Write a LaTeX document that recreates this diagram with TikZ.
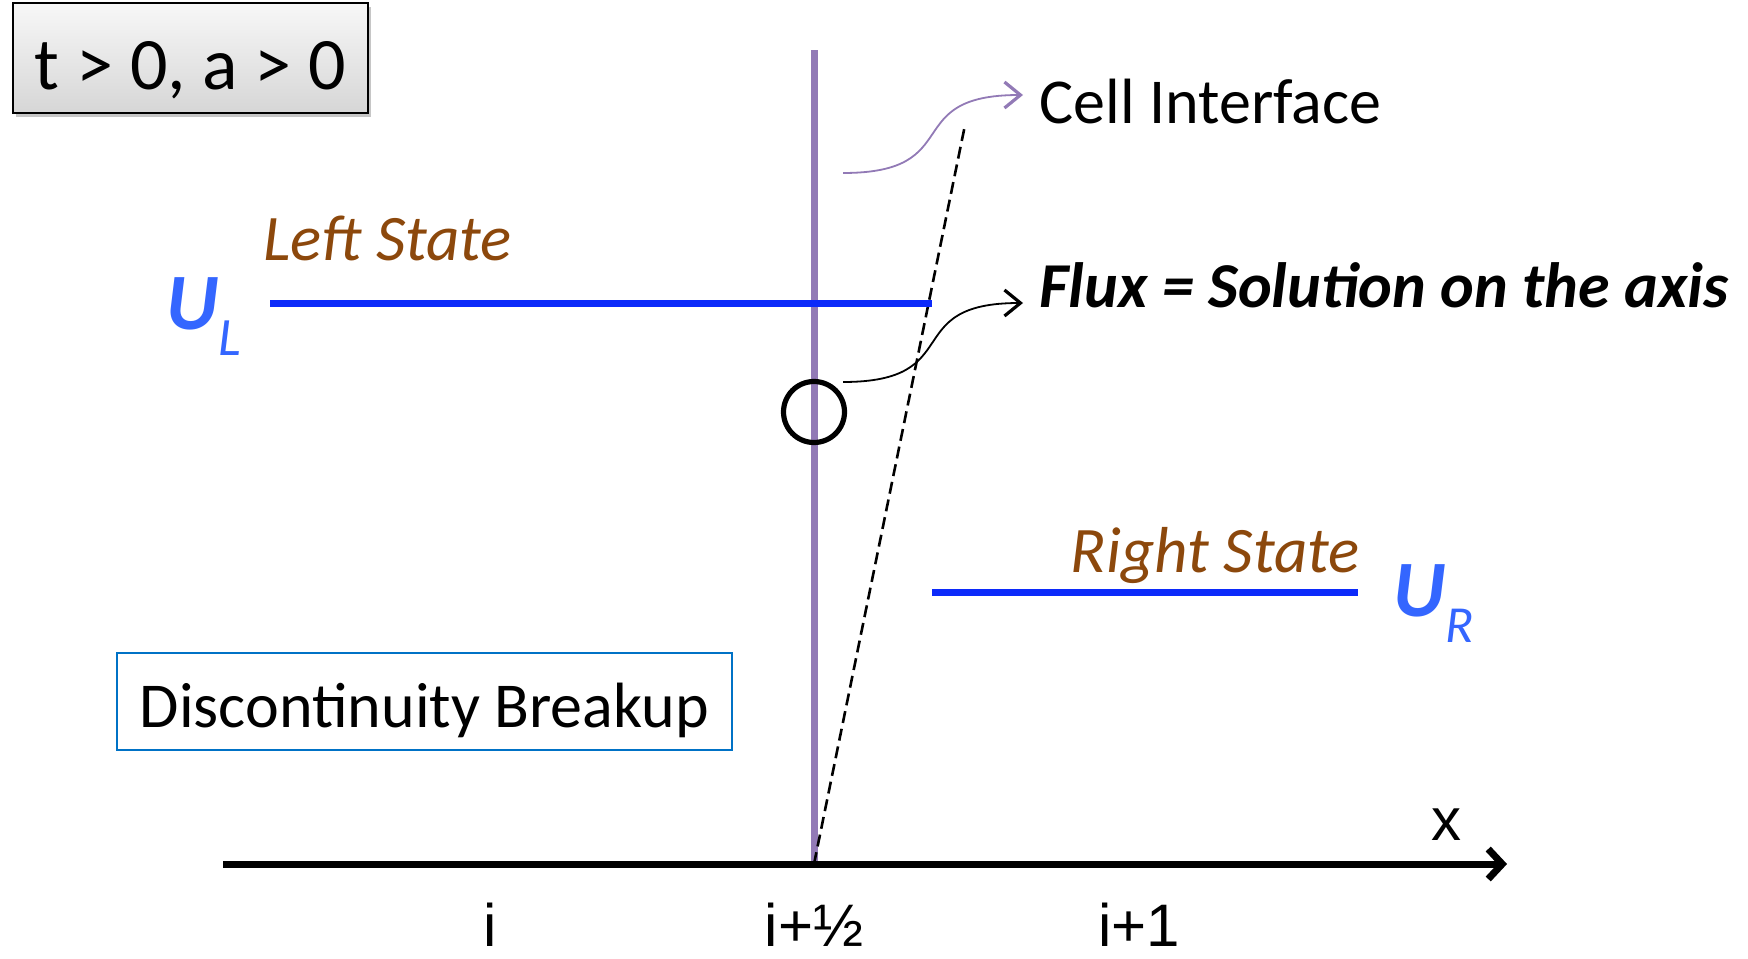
\documentclass[tikz,border=0pt]{standalone}
\usepackage{fontspec}
\setmainfont{Carlito}
\newfontfamily\axisfont{Liberation Sans}
\usetikzlibrary{positioning, arrows.meta, calc, shadows}

\definecolor{ifacepurple}{RGB}{146,122,182}
\definecolor{stateblue}{RGB}{12,42,250}
\definecolor{ublue}{RGB}{52,102,255}
\definecolor{statebrown}{RGB}{140,72,12}
\definecolor{boxblue}{RGB}{0,114,198}

\begin{document}
\begin{tikzpicture}[
    x=0.5pt, y=-0.5pt, % one unit is one pixel of the sketch, y runs down
    every node/.style={font=\fontsize{32}{38}\selectfont, inner sep=0pt},
    state/.style={stateblue, line width=3.5pt},
    lbl/.style={statebrown, font=\fontsize{32.5}{38}\selectfont\itshape},
    tick/.style={anchor=base, font=\axisfont\fontsize{30}{36}\selectfont},
    pointer/.style={-{Straight Barb[length=8pt, width=13pt, line width=1.6pt]}, line width=0.9pt}
]
    \useasboundingbox (0,0) rectangle (1748,958);

    % axis, cell interface and the wave
    \coordinate (o) at (223,864);
    \coordinate (xend) at (1507,864);
    \coordinate (foot) at (814,864);
    \coordinate (top) at (814,50);
    \coordinate (wave) at (965,125);

    \draw [ifacepurple, line width=3.5pt] (top) -- (foot);
    \draw [dash pattern=on 6pt off 3pt, line width=1.3pt] (foot) -- (wave);
    \draw [line width=3.5pt, -{Straight Barb[length=7pt, width=15pt, line width=3.5pt]}] (o) -- (xend);

    % left and right states
    \coordinate (ula) at (270,303);
    \coordinate (ulb) at (932,303);
    \coordinate (ura) at (932,592);
    \coordinate (urb) at (1358,592);
    \draw [state] (ula) -- (ulb);
    \draw [state] (ura) -- (urb);

    \node (probe) [circle, draw, line width=2.6pt, minimum size=30.5pt] at (814,412) {};

    % labels
    \node (cond) [draw, line width=1pt, top color=gray!6, bottom color=gray!32,
        drop shadow={shadow xshift=1.5pt, shadow yshift=-2pt, opacity=0.45},
        minimum width=177.5pt, minimum height=55pt, text height=31pt, text depth=0pt,
        font=\fontsize{37}{44}\selectfont] at (190.5,58) {t > 0, a > 0};

    \node (ul) [anchor=base west, ublue] at (166,329)
        {\fontsize{40}{48}\selectfont\bfseries\itshape U\raisebox{-13pt}{\fontsize{27}{32}\selectfont\mdseries L}};
    \node (ur) [anchor=base west, ublue] at (1393,616)
        {\fontsize{40}{48}\selectfont\bfseries\itshape U\raisebox{-13pt}{\fontsize{26}{31}\selectfont\mdseries R}};

    \node (lefts) [lbl, anchor=base west] at (263,260) {Left State};
    \node (rights) [lbl, anchor=base east] at (1360,572) {Right State};

    \node (iface) [anchor=base west] at (1039,123) {Cell Interface};
    \node (flux) [anchor=base west, font=\fontsize{32}{38}\selectfont\bfseries\itshape] at (1039,307) {Flux = Solution on the axis};

    \node (breakup) [draw=boxblue, line width=0.8pt, minimum width=307.5pt, minimum height=48.5pt,
        text height=25.5pt, text depth=0pt] at (424.5,701.5) {Discontinuity Breakup};

    \node (xlab) [tick] at (1446,840) {x};
    \node (ihalf) [tick, below=41pt of foot, anchor=base] {i+½};
    \node (icell) [tick] at ($(ihalf.base)+(-324,0)$) {i};
    \node (inext) [tick] at ($(ihalf.base)+(325,0)$) {i+1};

    % pointers to the texts
    \coordinate (cellfrom) at (843,173);
    \coordinate (fluxfrom) at (843,382);
    \draw [pointer, ifacepurple] (cellfrom) .. controls +(125,0) and +(-125,0) .. ($(iface.base west)+(-16,-28)$);
    \draw [pointer] (fluxfrom) .. controls +(125,0) and +(-125,0) .. ($(flux.base west)+(-16,-4)$);
\end{tikzpicture}
\end{document}
